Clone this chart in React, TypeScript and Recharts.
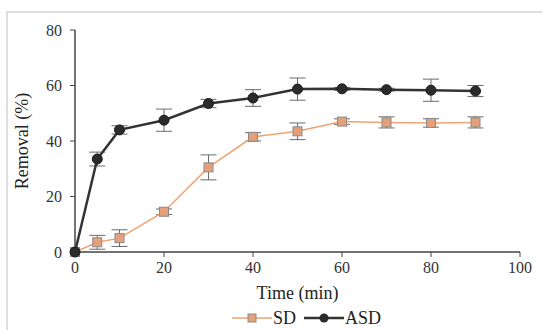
import React from "react";
import {
  LineChart,
  Line,
  XAxis,
  YAxis,
  ErrorBar,
  Legend,
} from "recharts";

// Sampling times (min)
const times = [0, 5, 10, 20, 30, 40, 50, 60, 70, 80, 90];

// Removal (%)
const sdValues = [0, 3.5, 5, 14.5, 30.5, 41.5, 43.5, 47, 46.7, 46.5, 46.7];
const sdErrors = [0, 2.5, 3, 1, 4.5, 1.5, 3, 1, 2, 1.5, 2];
const asdValues = [0, 33.5, 44, 47.5, 53.5, 55.5, 58.7, 58.8, 58.5, 58.3, 58];
const asdErrors = [0, 2.5, 1.5, 4, 1.5, 3, 4, 0.5, 0.5, 4, 2];

const xTicks = [0, 20, 40, 60, 80, 100];
const yTicks = [0, 20, 40, 60, 80];

const SD_COLOR = "#f2a272";
const SD_FILL = "#e3a07a";
const ASD_COLOR = "#333333";
const FONT = "'Liberation Serif', 'DejaVu Serif', serif";

const data = times.map((t, i) => ({
  time: t,
  sd: sdValues[i],
  sdErr: sdErrors[i],
  asd: asdValues[i],
  asdErr: asdErrors[i],
}));

function SquareDot(props: any) {
  const { cx, cy } = props;
  if (cx == null || cy == null) return null;
  return (
    <rect
      x={cx - 4.5}
      y={cy - 4.5}
      width={9}
      height={9}
      fill={SD_FILL}
      stroke="#8a8a8a"
      strokeWidth={1}
    />
  );
}

function CircleDot(props: any) {
  const { cx, cy } = props;
  if (cx == null || cy == null) return null;
  return <circle cx={cx} cy={cy} r={5} fill="#2b2b2b" stroke="#1a1a1a" />;
}

function LegendContent() {
  return (
    <div
      style={{
        display: "flex",
        alignItems: "center",
        fontFamily: FONT,
        fontSize: 18,
        lineHeight: "20px",
        color: "#222",
        paddingLeft: 232,
      }}
    >
      <svg width={40} height={12}>
        <line x1={0} y1={6} x2={40} y2={6} stroke={SD_COLOR} strokeWidth={1.5} />
        <rect x={16} y={2} width={8} height={8} fill={SD_FILL} stroke="#8a8a8a" />
      </svg>
      <span style={{ marginLeft: 1 }}>SD</span>
      <svg width={40} height={12} style={{ marginLeft: 8 }}>
        <line x1={0} y1={6} x2={40} y2={6} stroke={ASD_COLOR} strokeWidth={2.5} />
        <circle cx={20} cy={6} r={4.5} fill="#2b2b2b" />
      </svg>
      <span style={{ marginLeft: 1 }}>ASD</span>
    </div>
  );
}

export default function App() {
  const tick = { fill: "#333", fontSize: 16, fontFamily: FONT };
  return (
    <div
      style={{
        position: "absolute",
        left: 0,
        top: 0,
        width: 542,
        height: 330,
        background: "#fff",
        overflow: "hidden",
      }}
    >
      {/* light frame around the figure */}
      <div
        style={{
          position: "absolute",
          left: 6,
          top: 11,
          width: 600,
          height: 400,
          borderLeft: "2px solid #dedede",
          borderTop: "2px solid #dedede",
        }}
      />
      <LineChart
        width={542}
        height={330}
        data={data}
        margin={{ top: 30, right: 22, left: 0, bottom: 0 }}
      >
        <XAxis
          dataKey="time"
          type="number"
          domain={[0, 100]}
          ticks={xTicks}
          height={58}
          tick={tick}
          tickSize={5}
          tickMargin={5}
          stroke="#444"
          axisLine={{ stroke: "#444", strokeWidth: 1.5 }}
          label={{
            value: "Time (min)",
            position: "insideTop",
            offset: 34,
            style: { fill: "#222", fontSize: 18, fontFamily: FONT },
          }}
        />
        <YAxis
          type="number"
          domain={[0, 80]}
          ticks={yTicks}
          width={75}
          tick={tick}
          tickSize={5}
          tickMargin={8}
          stroke="#444"
          axisLine={{ stroke: "#444", strokeWidth: 1.5 }}
          label={{
            value: "Removal  (%)",
            angle: -90,
            position: "insideLeft",
            offset: 22,
            style: {
              fill: "#222",
              fontSize: 18,
              fontFamily: FONT,
              textAnchor: "middle",
            },
          }}
        />
        <Legend
          layout="vertical"
          align="center"
          verticalAlign="bottom"
          content={<LegendContent />}
          wrapperStyle={{
            position: "absolute",
            left: 0,
            top: 308,
            width: 542,
            height: 20,
          }}
        />
        <Line
          dataKey="sd"
          name="SD"
          stroke={SD_COLOR}
          strokeWidth={1.5}
          dot={<SquareDot />}
          activeDot={false}
          isAnimationActive={false}
        >
          <ErrorBar dataKey="sdErr" width={8} stroke="#6a6a6a" strokeWidth={1} />
        </Line>
        <Line
          dataKey="asd"
          name="ASD"
          stroke={ASD_COLOR}
          strokeWidth={2.5}
          dot={<CircleDot />}
          activeDot={false}
          isAnimationActive={false}
        >
          <ErrorBar dataKey="asdErr" width={8} stroke="#6a6a6a" strokeWidth={1} />
        </Line>
      </LineChart>
    </div>
  );
}
